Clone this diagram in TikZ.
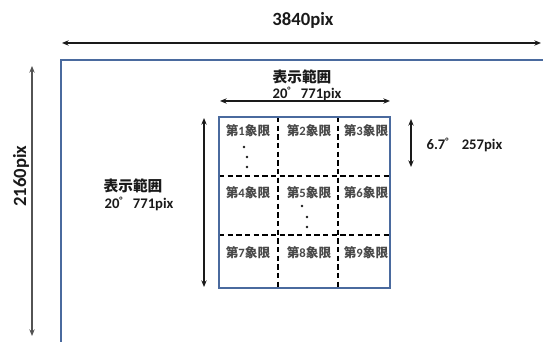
\documentclass[tikz,border=0pt]{standalone}
\usepackage{fontspec}
\setmainfont{Carlito}
\newfontfamily\jpfont{Noto Sans CJK JP}
\usepackage{xcolor}
\usetikzlibrary{arrows.meta,positioning}
\definecolor{frameBlue}{HTML}{4A6A9E}
\definecolor{dimInk}{HTML}{1A1A1A}
\newcommand{\degmark}{\raisebox{0.3em}{\fontsize{7}{7}\selectfont°}}

\begin{document}
\begin{tikzpicture}[x=0.75pt,y=-0.75pt,
    dimline/.style={draw=dimInk,line width=0.8pt,{Stealth[length=5pt,width=4pt]}-{Stealth[length=5pt,width=4pt]}},
    gridline/.style={draw=black,line width=1.3pt,dash pattern=on 4pt off 2.5pt},
    dimlabel/.style={font=\fontsize{11}{12}\selectfont\bfseries,text=dimInk,inner sep=1pt},
    namelabel/.style={font=\jpfont\fontsize{11}{12}\selectfont\bfseries,text=dimInk,inner sep=1pt},
    celllabel/.style={font=\jpfont\fontsize{9.5}{10}\selectfont\bfseries,text=dimInk!80,inner sep=0pt},
    dotmark/.style={circle,fill=dimInk,inner sep=0pt,minimum size=2.2pt}]
  \useasboundingbox (0,0) rectangle (543,342);

  % screen frame
  \draw[frameBlue,line width=1.6pt] (61,342) -- (61,60) -- (543,60);
  \coordinate (wl) at (62,43);
  \coordinate (wr) at (541,43);
  \draw[dimline] (wl) -- (wr);
  \node[dimlabel,font=\fontsize{14}{16}\selectfont\bfseries] (wtext) at (303,20) {3840pix};
  \coordinate (ht) at (32,66);
  \coordinate (hb) at (32,336);
  \draw[dimline,draw=dimInk!75] (ht) -- (hb);
  \node[dimlabel,font=\fontsize{14}{16}\selectfont\bfseries,rotate=90] (htext) at (21,176) {2160pix};

  % display area
  \draw[gridline] (278,117) -- (278,288);
  \draw[gridline] (338,117) -- (338,288);
  \draw[gridline] (219,176) -- (390,176);
  \draw[gridline] (219,235) -- (390,235);
  \draw[frameBlue,line width=1.4pt] (219,117) rectangle (390,288);

  \coordinate (tl) at (220,101);
  \coordinate (tr) at (390,101);
  \draw[dimline] (tl) -- (tr);
  \node[namelabel] (topname) at (302,77) {表示範囲};
  \node[dimlabel] (topval) at (307,94) {20\degmark\hspace{0.7em}771pix};

  \coordinate (lt) at (204,118);
  \coordinate (lb) at (204,287);
  \draw[dimline] (lt) -- (lb);
  \node[namelabel] (leftname) at (133,186) {表示範囲};
  \node[dimlabel] (leftval) at (139,204) {20\degmark\hspace{0.7em}771pix};

  \coordinate (rt) at (411,119);
  \coordinate (rb) at (411,167);
  \draw[dimline] (rt) -- (rb);
  \node[dimlabel,anchor=west] (rval) at (425,145) {6.7\degmark\hspace{0.9em}257pix};

  % quadrants
  \foreach \n/\x/\y in {1/248/131,2/309/131,3/366/131,
                         4/248/193,5/309/193,6/366/193,
                         7/248/253,8/309/253,9/366/253}
    \node[celllabel] (q\n) at (\x,\y) {第{\fontspec{Carlito}\n}象限};
  \node[dotmark] (d1) at (244,147) {};
  \node[dotmark] (d2) at (247,157) {};
  \node[dotmark] (d3) at (247,167) {};
  \node[dotmark] (d4) at (302,206) {};
  \node[dotmark] (d5) at (307,217) {};
  \node[dotmark] (d6) at (307,227) {};
\end{tikzpicture}
\end{document}
